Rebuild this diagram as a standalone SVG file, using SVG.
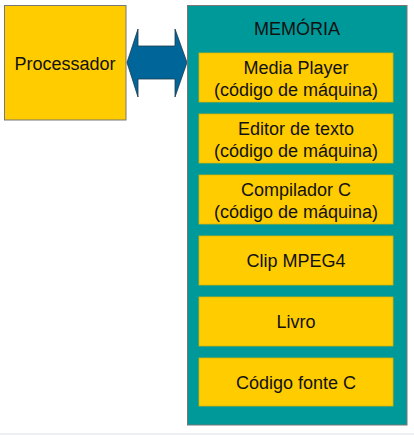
<svg xmlns="http://www.w3.org/2000/svg" width="414" height="435" viewBox="0 0 414 435">
<style>
text{font-family:"Liberation Sans",Arial,sans-serif;font-size:18px;fill:#111;text-anchor:middle}
.box{fill:#ffcc00;stroke:#d9b300;stroke-width:0.8}
.outer{stroke:#777;stroke-width:1}
</style>
<rect x="0" y="0" width="414" height="435" fill="#fff"/>
<rect x="0" y="433" width="414" height="2" fill="#eeeef5"/>
<g id="processador">
<rect class="outer" x="4.5" y="5.5" width="121.5" height="114.5" fill="#ffcc00"/>
<text x="65" y="70">Processador</text>
</g>
<g id="connectors">
<polygon points="127,62.5 138,29 138,46 175,46 175,29 187,62.5 175,97 175,79 138,79 138,97" fill="#006699" stroke="#1a3a4a" stroke-width="0.8"/>
</g>
<g id="memoria">
<rect class="outer" x="187.5" y="5.5" width="219.5" height="419.5" fill="#009999"/>
<text x="297" y="35">MEMÓRIA</text>
</g>
<g id="media-player">
<rect class="box" x="199" y="53" width="194" height="49"/>
<text x="296" y="74">Media Player</text>
<text x="296" y="96">(código de máquina)</text>
</g>
<g id="editor-texto">
<rect class="box" x="199" y="114" width="194" height="49"/>
<text x="296" y="135">Editor de texto</text>
<text x="296" y="157">(código de máquina)</text>
</g>
<g id="compilador-c">
<rect class="box" x="199" y="175" width="194" height="49"/>
<text x="296" y="196">Compilador C</text>
<text x="296" y="218">(código de máquina)</text>
</g>
<g id="clip-mpeg4">
<rect class="box" x="199" y="236" width="194" height="49"/>
<text x="296" y="267">Clip MPEG4</text>
</g>
<g id="livro">
<rect class="box" x="199" y="297" width="194" height="49"/>
<text x="296" y="328">Livro</text>
</g>
<g id="codigo-fonte-c">
<rect class="box" x="199" y="358" width="194" height="48"/>
<text x="296" y="389">Código fonte C</text>
</g>
</svg>
